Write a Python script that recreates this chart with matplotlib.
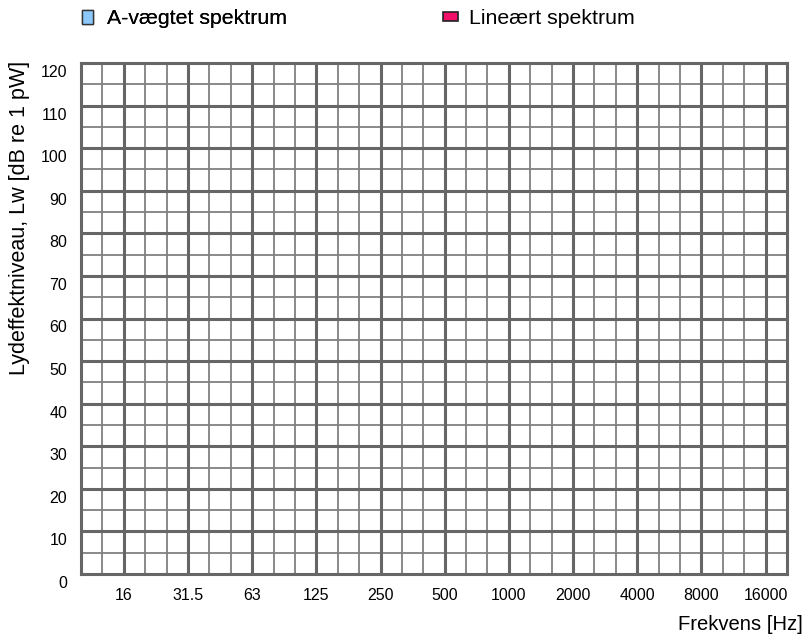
import numpy as np
import matplotlib.pyplot as plt
from matplotlib.patches import Patch
from matplotlib.transforms import ScaledTranslation

plt.rcParams['font.family'] = ['Liberation Sans', 'DejaVu Sans']

# third-octave bands shown on the x axis (33 columns), labelled per octave
bands = ["10", "12.5", "16", "20", "25", "31.5", "40", "50", "63", "80", "100",
         "125", "160", "200", "250", "315", "400", "500", "630", "800", "1000",
         "1250", "1600", "2000", "2500", "3150", "4000", "5000", "6300", "8000",
         "10000", "12500", "16000"]
octave_labels = ["16", "31.5", "63", "125", "250", "500", "1000", "2000",
                 "4000", "8000", "16000"]
y_ticks = [0, 10, 20, 30, 40, 50, 60, 70, 80, 90, 100, 110, 120]

# spectra (empty in the reference form)
a_weighted = []
linear = []

blue = "#8cc8fa"
pink = "#f0106a"

fig = plt.figure(figsize=(8.08, 6.35), dpi=100)
ax = fig.add_axes([81 / 808, 61 / 635, 706 / 808, 511 / 635])

n = len(bands)
ax.set_xlim(0, n)
ax.set_ylim(0, 120)

# bars for any spectrum values
ax.bar(np.arange(len(a_weighted)) + 0.5, a_weighted, width=0.8, color=blue,
       edgecolor="#333333")
ax.plot(np.arange(len(linear)) + 0.5, linear, color=pink)

# grid: minor every band / 5 dB, major every octave / 10 dB
minor_x = np.arange(1, n)
major_x = [bands.index(lbl) for lbl in octave_labels]
for x in minor_x:
    if x not in major_x:
        ax.axvline(x, color="#808080", lw=1.3, zorder=1)
for x in major_x:
    ax.axvline(x, color="#666666", lw=2.2, zorder=2)
for y in range(5, 120, 10):
    ax.axhline(y, color="#808080", lw=1.3, zorder=1)
for y in y_ticks[1:-1]:
    ax.axhline(y, color="#666666", lw=2.2, zorder=2)

for s in ax.spines.values():
    s.set_color("#666666")
    s.set_linewidth(2.2)

ax.set_xticks(major_x)
ax.set_xticklabels(octave_labels, fontsize=11.5)
ax.set_yticks(y_ticks)
ax.set_yticklabels([str(v) for v in y_ticks], fontsize=11.5)
ax.tick_params(length=0, pad=10)
for lbl in ax.get_yticklabels():
    lbl.set_transform(lbl.get_transform() + ScaledTranslation(0, -8 / 100, fig.dpi_scale_trans))

fig.text(20 / 808, 1 - 218 / 635, "Lydeffektniveau, Lw [dB re 1 pW]",
         rotation=90, ha="center", va="center", fontsize=15.5)
fig.text(803 / 808, 1 - 625 / 635, "Frekvens [Hz]", ha="right", va="center",
         fontsize=14.6)

h1 = Patch(facecolor=blue, edgecolor="#333333", lw=1.0)
h2 = Patch(facecolor=pink, edgecolor="#222222", lw=1.2)
leg1 = fig.legend(handles=[h1], labels=["A-vægtet spektrum"], loc="center left",
                  bbox_to_anchor=(82 / 808, 1 - 19 / 635), frameon=False,
                  fontsize=15.3, handlelength=0.52, handleheight=0.6,
                  handletextpad=0.65, borderpad=0, borderaxespad=0)
fig.add_artist(leg1)
fig.legend(handles=[h2], labels=["Lineært spektrum"], loc="center left",
           bbox_to_anchor=(443 / 808, 1 - 19 / 635), frameon=False,
           fontsize=15.3, handlelength=0.7, handleheight=0.28,
           handletextpad=0.5, borderpad=0, borderaxespad=0)

fig.savefig("out.png", dpi=100)
